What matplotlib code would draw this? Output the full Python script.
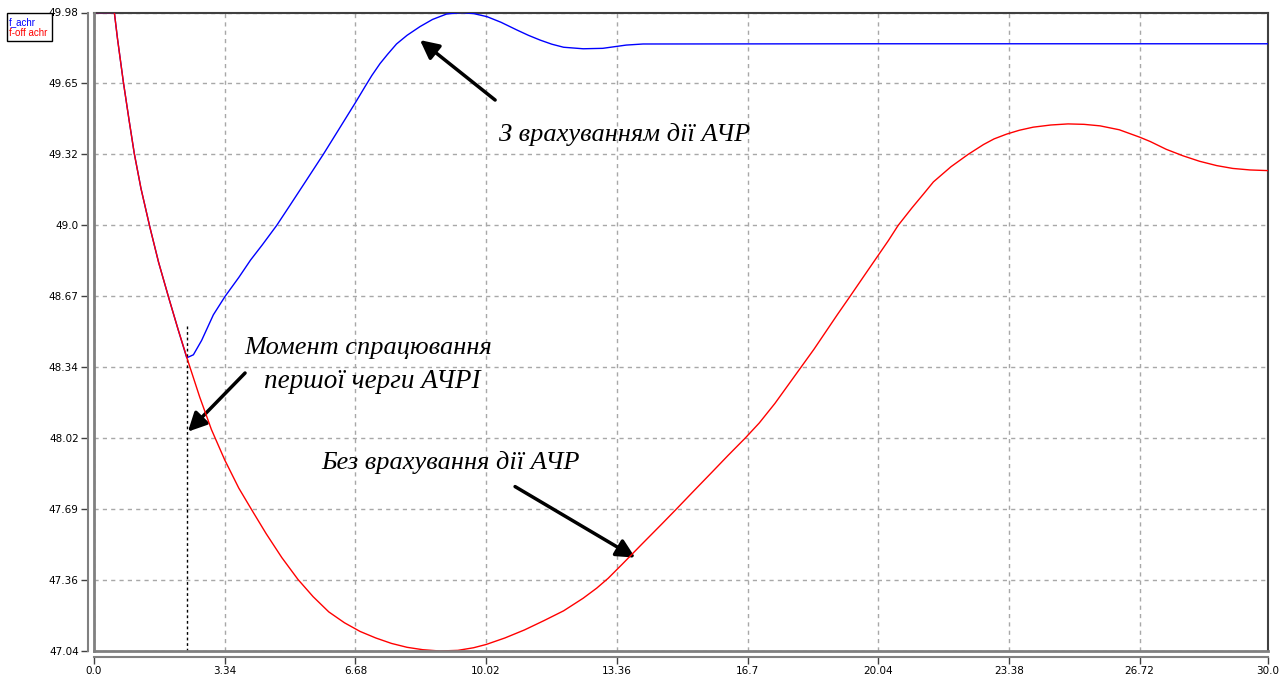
import matplotlib
matplotlib.use("Agg")
import matplotlib.pyplot as plt
from matplotlib.patches import Rectangle

# frequency without under-frequency load shedding (f-off achr)
t_off = [0.0, 0.52, 0.6, 0.75, 0.9, 1.03, 1.2, 1.43, 1.65, 1.92, 2.15, 2.41,
         2.7, 3.0, 3.34, 3.7, 4.03, 4.4, 4.8, 5.21, 5.6, 6.0, 6.4, 6.8, 7.2,
         7.6, 8.0, 8.4, 8.84, 9.3, 9.7, 10.02, 10.5, 11.0, 11.5, 12.0, 12.5,
         12.85, 13.14, 13.5, 14.0, 14.5, 14.89, 15.3, 15.8, 16.2, 16.65, 17.0,
         17.4, 17.7, 18.08, 18.4, 18.7, 19.0, 19.32, 19.7, 20.04, 20.3, 20.55,
         20.9, 21.2, 21.45, 21.9, 22.34, 22.73, 23.0, 23.32, 23.65, 24.0,
         24.45, 24.89, 25.3, 25.71, 26.2, 26.72, 26.99, 27.4, 27.83, 28.25,
         28.69, 29.1, 29.54, 30.0]
f_off = [49.98, 49.98, 49.86, 49.66, 49.48, 49.33, 49.17, 48.99, 48.83, 48.66,
         48.52, 48.37, 48.21, 48.06, 47.92, 47.79, 47.69, 47.58, 47.47, 47.37,
         47.29, 47.22, 47.17, 47.13, 47.1, 47.075, 47.057, 47.046, 47.04,
         47.043, 47.055, 47.07, 47.1, 47.137, 47.18, 47.225, 47.283, 47.33,
         47.375, 47.44, 47.532, 47.623, 47.695, 47.772, 47.865, 47.94, 48.022,
         48.09, 48.18, 48.255, 48.35, 48.43, 48.51, 48.59, 48.673, 48.773,
         48.862, 48.93, 49.0, 49.08, 49.145, 49.2, 49.27, 49.327, 49.372,
         49.398, 49.42, 49.438, 49.452, 49.462, 49.467, 49.465, 49.458, 49.44,
         49.406, 49.386, 49.35, 49.32, 49.295, 49.275, 49.262, 49.255, 49.252]

# frequency with load shedding (f_achr), splits off when the first stage trips
t_achr = [0.0, 0.52, 0.6, 0.75, 0.9, 1.03, 1.2, 1.43, 1.65, 1.92, 2.15, 2.37,
          2.54, 2.75, 3.05, 3.35, 3.7, 4.0, 4.3, 4.67, 5.0, 5.4, 5.86, 6.25,
          6.68, 6.93, 7.1, 7.31, 7.5, 7.73, 8.0, 8.33, 8.65, 9.01, 9.4, 9.7,
          10.04, 10.4, 10.8, 11.1, 11.4, 11.7, 12.0, 12.5, 13.0, 13.6, 14.03,
          20.0, 30.0]
f_achr = [49.98, 49.98, 49.86, 49.66, 49.48, 49.33, 49.17, 48.99, 48.83, 48.66,
          48.52, 48.39, 48.404, 48.47, 48.588, 48.673, 48.76, 48.84, 48.91,
          49.0, 49.09, 49.2, 49.327, 49.44, 49.565, 49.64, 49.69, 49.745,
          49.787, 49.835, 49.875, 49.915, 49.948, 49.973, 49.98, 49.975,
          49.961, 49.935, 49.9, 49.875, 49.853, 49.834, 49.82, 49.813, 49.815,
          49.83, 49.835, 49.836, 49.836]

t_trip = 2.37
f_trip_top = 48.54

x_ticks = [0.0, 3.34, 6.68, 10.02, 13.36, 16.7, 20.04, 23.38, 26.72, 30.0]
x_labels = ["0.0", "3.34", "6.68", "10.02", "13.36", "16.7", "20.04",
            "23.38", "26.72", "30.0"]
y_ticks = [47.04 + i * (49.98 - 47.04) / 9 for i in range(10)]
y_labels = ["47.04", "47.36", "47.69", "48.02", "48.34", "48.67", "49.0",
            "49.32", "49.65", "49.98"]

fig = plt.figure(figsize=(12.85, 6.75), dpi=100)
ax = fig.add_axes([94 / 1285, 1 - 651 / 675, 1174 / 1285, 638.5 / 675])

ax.plot(t_achr, f_achr, color="#0000ff", lw=1.0, zorder=3)
ax.plot(t_off, f_off, color="#ff0000", lw=1.0, zorder=4)
ax.plot([t_trip, t_trip], [47.04, f_trip_top], color="black", lw=1.0,
        linestyle=(0, (2, 2)), zorder=2)

ax.set_xlim(0, 30)
ax.set_ylim(47.04, 49.98)
ax.set_xticks(x_ticks)
ax.set_xticklabels(x_labels)
ax.set_yticks(y_ticks)
ax.set_yticklabels(y_labels)
ax.tick_params(labelsize=7.5, color="#404040", length=5, width=1,
               labelcolor="black", pad=2)
for lab in ax.get_xticklabels() + ax.get_yticklabels():
    lab.set_family("Liberation Sans")

ax.grid(True, color="#a8a8a8", lw=1.0, linestyle=(0, (3, 3)))

for side in ["top", "right"]:
    ax.spines[side].set_color("#404040")
    ax.spines[side].set_linewidth(1.5)
for side in ["left", "bottom"]:
    ax.spines[side].set_position(("outward", 4))
    ax.spines[side].set_color("#808080")
    ax.spines[side].set_linewidth(1.5)
# inner frame lines next to the outer axis lines
ax.plot([0, 0], [0, 1], transform=ax.transAxes, color="#808080", lw=2,
        clip_on=False, zorder=5)
ax.plot([0, 1], [0, 0], transform=ax.transAxes, color="#808080", lw=2,
        clip_on=False, zorder=5)

txt = dict(family="Liberation Serif", style="italic", color="black",
           ha="center", va="center")
arrow = dict(arrowstyle="-|>", color="black", lw=2.5, mutation_scale=28,
             shrinkA=0, shrinkB=0)

ax.text(13.57, 49.416, "З врахуванням дії АЧР", fontsize=19, **txt)
ax.annotate("", xy=(8.33, 49.853), xytext=(10.25, 49.577), arrowprops=arrow)

ax.text(7.0, 48.437, "Момент спрацювання", fontsize=19, **txt)
ax.text(7.1, 48.28, "першої черги АЧРІ", fontsize=19.5, **txt)
ax.annotate("", xy=(2.40, 48.05), xytext=(3.86, 48.32), arrowprops=arrow)

ax.text(9.1, 47.91, "Без врахування дії АЧР", fontsize=19, **txt)
ax.annotate("", xy=(13.83, 47.47), xytext=(10.76, 47.797), arrowprops=arrow)

# small legend box in the top-left corner
fig.patches.append(Rectangle((7 / 1285, 1 - 41 / 675), 45 / 1285, 28 / 675,
                             transform=fig.transFigure, fill=False,
                             edgecolor="black", lw=1))
fig.text(9 / 1285, 1 - 22 / 675, "f_achr", color="#0000ff", fontsize=7,
         family="Liberation Sans", va="center")
fig.text(9 / 1285, 1 - 33 / 675, "f-off achr", color="#ff0000", fontsize=7,
         family="Liberation Sans", va="center")

fig.savefig("out.png", dpi=100)
